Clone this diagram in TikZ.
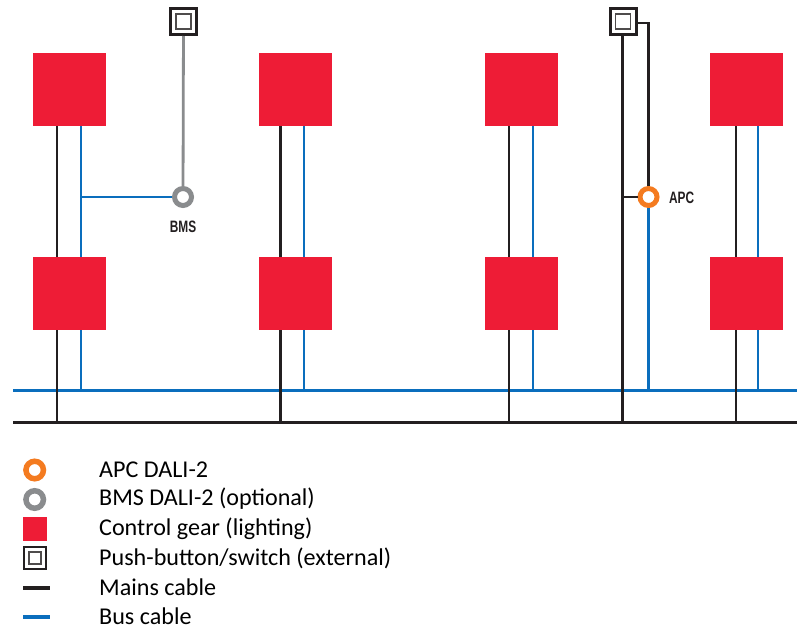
\documentclass[tikz,border=0pt]{standalone}
\usepackage{fontspec}
\setmainfont{Carlito}
\newfontfamily\condfont{Liberation Sans}
\definecolor{gearred}{HTML}{EE1C36}
\definecolor{busblue}{HTML}{0A6EBD}
\definecolor{mainsblack}{HTML}{231F20}
\definecolor{apcorange}{HTML}{F47B20}
\definecolor{bmsgrey}{HTML}{8A8C8E}
\tikzset{
  gear/.style={fill=gearred,draw=none,minimum size=73pt,inner sep=0pt,outer sep=0pt},
  gearkey/.style={fill=gearred,draw=none,minimum size=24pt,inner sep=0pt,outer sep=0pt},
  switchbox/.style={draw=mainsblack,line width=3pt,fill=white,minimum size=26pt,inner sep=0pt,outer sep=1.5pt,
    path picture={\draw[mainsblack!80,line width=1.6pt] ([xshift=-7.5pt,yshift=-7.5pt]path picture bounding box.center) rectangle ([xshift=7.5pt,yshift=7.5pt]path picture bounding box.center);}},
  switchkey/.style={draw=mainsblack,line width=2pt,fill=white,minimum size=22pt,inner sep=0pt,outer sep=1pt,
    path picture={\draw[mainsblack!80,line width=1.5pt] ([xshift=-6pt,yshift=-6pt]path picture bounding box.center) rectangle ([xshift=6pt,yshift=6pt]path picture bounding box.center);}},
  ring/.style={circle,fill=white,line width=5pt,minimum size=17pt,inner sep=0pt,outer sep=2.5pt},
  keyring/.style={circle,fill=white,line width=5.5pt,minimum size=17.5pt,inner sep=0pt,outer sep=2.75pt},
  apcring/.style={ring,draw=apcorange},
  bmsring/.style={ring,draw=bmsgrey},
  mains/.style={draw=mainsblack,line width=2.8pt},
  bus/.style={draw=busblue,line width=2.8pt},
  signal/.style={draw=bmsgrey,line width=2.8pt},
  tag/.style={font=\condfont\bfseries\fontsize{16.5}{16.5}\selectfont,text=mainsblack,xscale=0.72,inner sep=0pt},
  keytext/.style={font=\fontsize{24.1}{25}\selectfont,anchor=west,text=black,inner sep=0pt},
}
\begin{document}
\begin{tikzpicture}[x=1pt,y=-1pt]
\useasboundingbox (0,0) rectangle (797,629);
% rails
\coordinate (busL) at (13,390.5);
\coordinate (busR) at (797,390.5);
\coordinate (mainsL) at (13,422.5);
\coordinate (mainsR) at (797,422.5);
\foreach \n/\m/\b in {a/57/81,b/280.5/304,c/509/533,d/736/758}{
  \coordinate (\n m) at (\m,422.5);
  \coordinate (\n b) at (\b,390.5);
  \coordinate (\n mtt) at (\m,126);
  \coordinate (\n btt) at (\b,126);
  \coordinate (\n mt) at (\m,330);
  \coordinate (\n bt) at (\b,330);
}
\foreach \n in {a,b,c,d}{
  \draw[bus] (\n btt) -- (\n bt |- 0,257);
  \draw[bus] (\n bt) -- (\n b);
}
\draw[bus] (busL) -- (busR);
\foreach \n in {a,b,c,d}{
  \draw[mains] (\n mtt) -- (\n mt |- 0,257);
  \draw[mains] (\n mt) -- (\n m);
}
\draw[mains] (mainsL) -- (mainsR);
% gear
\node[gear] (g1) at (69.5,89.5) {};
\node[gear] (g2) at (295.5,89.5) {};
\node[gear] (g3) at (521.5,89.5) {};
\node[gear] (g4) at (746.5,89.5) {};
\node[gear] (g5) at (69.5,293.5) {};
\node[gear] (g6) at (295.5,293.5) {};
\node[gear] (g7) at (521.5,293.5) {};
\node[gear] (g8) at (746.5,293.5) {};
% BMS
\node[switchbox] (s1) at (183.5,21.5) {};
\node[bmsring] (bms) at (183,197) {};
\node[tag] (bmsl) at (183,226.5) {BMS};
\coordinate (bmsj) at (81,197);
\draw[signal] (s1) -- (bms);
\draw[bus] (bmsj) -- (bms);
% APC
\node[switchbox] (s2) at (623,21.5) {};
\node[apcring] (apc) at (648.5,197) {};
\node[tag,anchor=west] (apcl) at (669,198) {APC};
\coordinate (apcj) at (622.5,197);
\coordinate (apcb) at (648.5,390.5);
\coordinate (apct) at (648.5,23);
\coordinate (m5) at (622.5,422.5);
\draw[mains] (s2.south -| m5) -- (m5);
\draw[mains] (s2.east |- apct) -- (apct) -- (apc);
\draw[mains] (apcj) -- (apc);
\draw[bus] (apc) -- (apcb);
% legend
\node[keyring,draw=apcorange] (k1) at (34.7,470) {};
\node[keyring,draw=bmsgrey] (k2) at (34.7,499.5) {};
\node[gearkey] (k3) at (35,529) {};
\node[switchkey] (k4) at (35,558) {};
\coordinate (k5a) at (23,588);
\coordinate (k5b) at (50,588);
\coordinate (k6a) at (23,617);
\coordinate (k6b) at (50,617);
\draw[mains,line width=4pt] (k5a) -- (k5b);
\draw[bus,line width=4pt] (k6a) -- (k6b);
\node[keytext] (t1) at (99,470) {APC DALI-2};
\node[keytext] (t2) at (99,499) {BMS DALI-2 (optional)};
\node[keytext] (t3) at (99,528.5) {Control gear (lighting)};
\node[keytext] (t4) at (99,558) {Push-button/switch (external)};
\node[keytext] (t5) at (99,587.5) {Mains cable};
\node[keytext] (t6) at (99,616.5) {Bus cable};
\end{tikzpicture}
\end{document}
